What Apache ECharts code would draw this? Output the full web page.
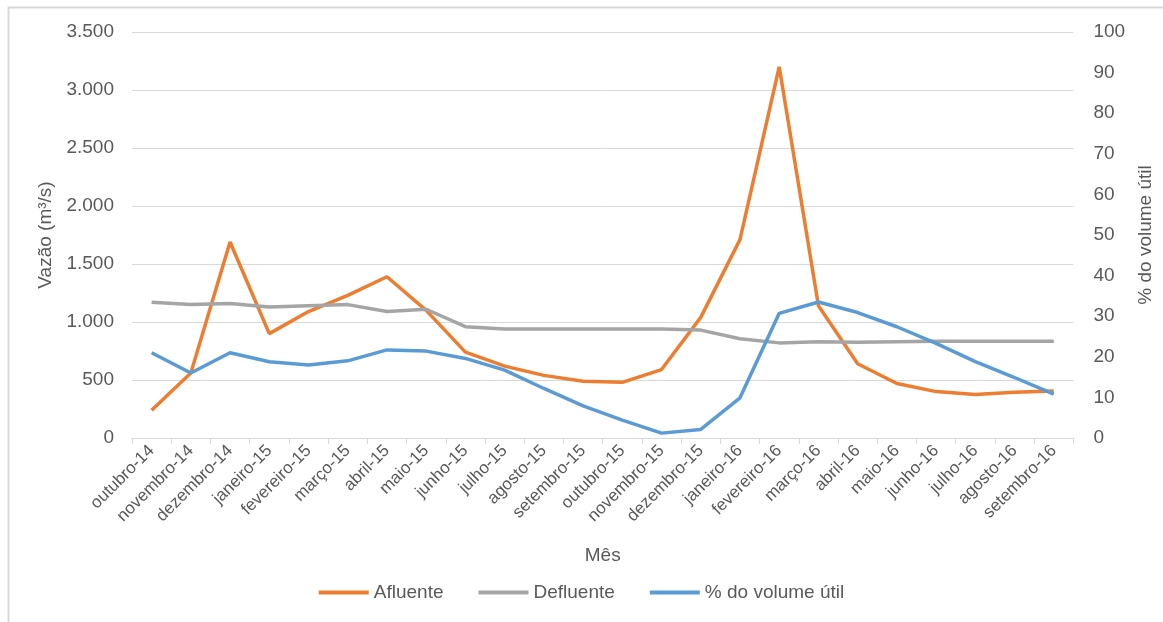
<!DOCTYPE html>
<html>
<head>
<meta charset="utf-8">
<script src="https://cdn.jsdelivr.net/npm/echarts@6/dist/echarts.min.js"></script>
<style>
  html, body { margin: 0; padding: 0; background: #fff; }
  #chart { width: 1163px; height: 622px; }
</style>
</head>
<body>
<div id="chart"></div>
<script>
var months = ["outubro-14", "novembro-14", "dezembro-14", "janeiro-15", "fevereiro-15", "março-15",
  "abril-15", "maio-15", "junho-15", "julho-15", "agosto-15", "setembro-15", "outubro-15",
  "novembro-15", "dezembro-15", "janeiro-16", "fevereiro-16", "março-16", "abril-16", "maio-16",
  "junho-16", "julho-16", "agosto-16", "setembro-16"];
var afluente = [240, 560, 1690, 900, 1090, 1230, 1390, 1100, 740, 620, 540, 490,
  480, 590, 1040, 1710, 3200, 1140, 640, 470, 400, 375, 395, 405];
var defluente = [1170, 1150, 1160, 1130, 1140, 1150, 1090, 1110, 960, 940, 940, 940,
  940, 940, 930, 855, 820, 830, 825, 830, 835, 835, 835, 835];
var volumeUtil = [21, 16, 21, 18.8, 18, 19, 21.7, 21.4, 19.6, 16.7, 12.2, 7.9,
  4.4, 1.2, 2.1, 9.9, 30.7, 33.5, 30.9, 27.4, 23.3, 18.8, 14.9, 10.8];

var chart = echarts.init(document.getElementById("chart"));
var txt = "#595959";
var font = "Liberation Sans, Arial, sans-serif";

chart.setOption({
  animation: false,
  textStyle: { fontFamily: font },
  graphic: [
    {
      type: "rect",
      shape: { x: 8.5, y: 7.5, width: 1200, height: 700 },
      style: { fill: "none", stroke: "#d9d9d9", lineWidth: 2 },
      silent: true
    }
  ],
  grid: { left: 132, right: 83, top: 32, bottom: 184, containLabel: false },
  legend: {
    bottom: 15,
    left: "center",
    icon: "rect",
    itemWidth: 50,
    itemHeight: 4,
    itemGap: 35,
    textStyle: { color: txt, fontSize: 19, fontFamily: font },
    data: ["Afluente", "Defluente", "% do volume útil"]
  },
  xAxis: {
    type: "category",
    data: months,
    name: "Mês",
    nameLocation: "middle",
    nameGap: 108,
    nameTextStyle: { color: txt, fontSize: 19 },
    axisLine: { lineStyle: { color: "#d9d9d9", width: 1 } },
    axisTick: { show: true, length: 6, lineStyle: { color: "#d9d9d9" } },
    axisLabel: { rotate: 45, color: txt, fontSize: 17, margin: 10, interval: 0 }
  },
  yAxis: [
    {
      type: "value",
      min: 0,
      max: 3500,
      interval: 500,
      name: "Vazão (m³/s)",
      nameLocation: "middle",
      nameGap: 74,
      nameTextStyle: { color: txt, fontSize: 19 },
      axisLine: { show: false },
      axisTick: { show: false },
      axisLabel: {
        color: txt,
        fontSize: 19,
        margin: 18,
        formatter: function (v) { return v >= 1000 ? Math.floor(v / 1000) + "." + String(v % 1000).padStart(3, "0") : String(v); }
      },
      splitLine: { lineStyle: { color: "#d9d9d9", width: 1 } }
    },
    {
      type: "value",
      min: 0,
      max: 100,
      interval: 10,
      name: "% do volume útil",
      nameLocation: "middle",
      nameGap: 45,
      nameTextStyle: { color: txt, fontSize: 19 },
      axisLine: { show: false },
      axisTick: { show: false },
      axisLabel: { color: txt, fontSize: 19, margin: 20 },
      splitLine: { show: false }
    }
  ],
  series: [
    {
      name: "Afluente",
      type: "line",
      yAxisIndex: 0,
      data: afluente,
      symbol: "none",
      color: "#ED7D31",
      lineStyle: { width: 3.5, color: "#ED7D31" }
    },
    {
      name: "Defluente",
      type: "line",
      yAxisIndex: 0,
      data: defluente,
      symbol: "none",
      color: "#A5A5A5",
      lineStyle: { width: 3.5, color: "#A5A5A5" }
    },
    {
      name: "% do volume útil",
      type: "line",
      yAxisIndex: 1,
      data: volumeUtil,
      symbol: "none",
      color: "#5B9BD5",
      lineStyle: { width: 3.5, color: "#5B9BD5" }
    }
  ]
});
</script>
</body>
</html>
